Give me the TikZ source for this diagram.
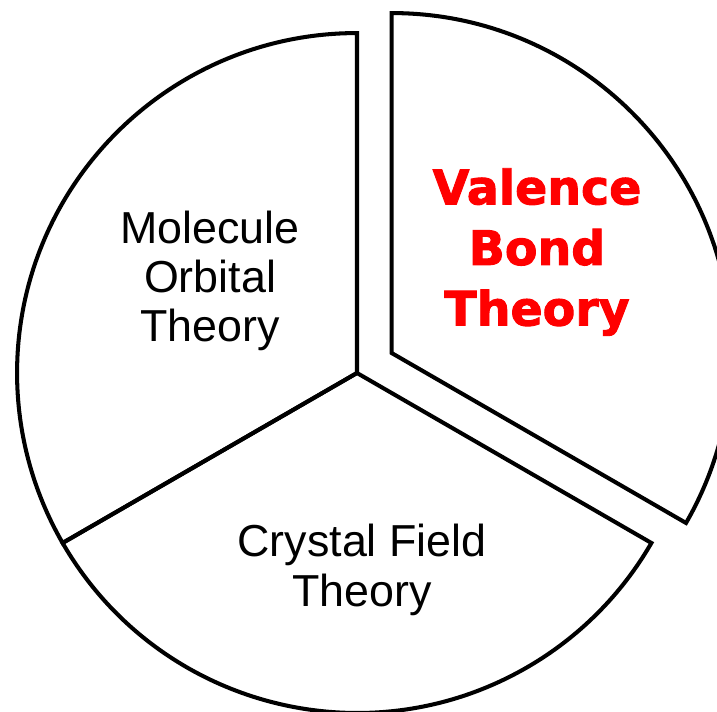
\documentclass[tikz,border=0pt]{standalone}
\usepackage{fontspec}
\setmainfont{Liberation Sans}
\newfontfamily\heavyfont[BoldFeatures={FakeBold=2}]{DejaVu Sans}
\usetikzlibrary{calc, positioning}

\tikzset{
  slice/.style={line width=2.3pt, black, line join=miter},
  plainlabel/.style={align=center, font=\fontsize{25.5}{28}\selectfont},
  boldlabel/.style={align=center, text=red, font=\heavyfont\bfseries\fontsize{27}{34.5}\selectfont}
}

\begin{document}
\begin{tikzpicture}[x=0.02cm, y=0.02cm]
\def\R{6.8cm}

\useasboundingbox (0,0) rectangle (717,711);
\clip (0,0) rectangle (717,711);

\coordinate (Pcenter) at (357,338);
\coordinate (Vcenter) at ($(Pcenter)+(30:0.8cm)$);

% the two slices that stay in place
\draw[slice] (Pcenter) -- ++(90:\R) arc (90:210:\R) -- cycle;
\draw[slice] (Pcenter) -- ++(210:\R) arc (210:330:\R) -- cycle;
% the slice pulled out
\draw[slice] (Vcenter) -- ++(90:\R) arc (90:-30:\R) -- cycle;

\node[plainlabel] (MOLabel) at (210,430) {Molecule\\Orbital\\Theory};
\node[plainlabel] (CFLabel) at (362,141) {Crystal Field\\Theory};
\node[boldlabel] (VBLabel) at (537,459) {Valence\\Bond\\Theory};
\end{tikzpicture}
\end{document}
